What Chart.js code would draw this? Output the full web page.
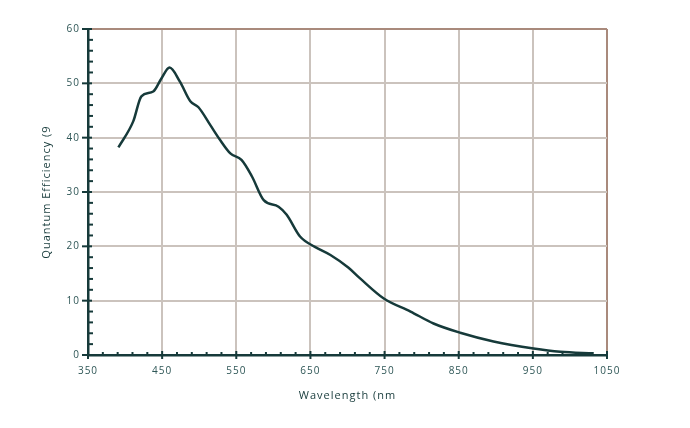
<!DOCTYPE html>
<html>
<head>
<meta charset="utf-8">
<script src="https://cdn.jsdelivr.net/npm/chart.js@4.4.1/dist/chart.umd.min.js"></script>
<style>
  html, body { margin: 0; padding: 0; background: #fff; }
  #wrap { width: 690px; height: 428px; }
</style>
</head>
<body>
<div id="wrap"><canvas id="qe"></canvas></div>
<script>
// wavelength (nm) and quantum efficiency (%)
const wavelength = [391, 411, 422, 438, 449, 460, 474, 488, 499, 515, 528, 542, 557, 571, 587, 607, 618, 636, 656, 677, 701, 717, 749, 785, 816, 852, 897, 951, 987, 1032];
const efficiency = [38.2, 43.0, 47.6, 48.5, 50.9, 52.9, 50.3, 46.7, 45.6, 42.3, 39.6, 37.1, 35.9, 32.9, 28.5, 27.3, 25.8, 21.8, 19.9, 18.4, 16.1, 14.1, 10.4, 8.0, 5.8, 4.1, 2.5, 1.2, 0.6, 0.3];
const xTicks = [350, 450, 550, 650, 750, 850, 950, 1050];
const yTicks = [0, 10, 20, 30, 40, 50, 60];

const ink = "#163a3a";
const labelColor = "#2e5656";
const gridColor = "#cbc3bd";
const edgeColor = "#a98a7c";

const points = wavelength.map((w, i) => ({ x: w, y: efficiency[i] }));

// wider letter spacing, the original labels are spread out
const spacing = {
  id: "spacing",
  beforeDraw(chart) { chart.ctx.letterSpacing = "1px"; }
};

// small tick marks drawn inward, like the original plot
const innerTicks = {
  id: "innerTicks",
  afterDraw(chart) {
    const ctx = chart.ctx;
    const xs = chart.scales.x, ys = chart.scales.y;
    const b = ys.getPixelForValue(0), l = xs.getPixelForValue(350);
    ctx.save();
    ctx.strokeStyle = ink;
    ctx.lineWidth = 2;
    xs.ticks.forEach(t => {
      const p = xs.getPixelForValue(t.value);
      ctx.beginPath();
      if (xTicks.includes(t.value)) { ctx.moveTo(p, b - 4); ctx.lineTo(p, b + 4); }
      else { ctx.moveTo(p, b - 3); ctx.lineTo(p, b); }
      ctx.stroke();
    });
    ys.ticks.forEach(t => {
      const p = ys.getPixelForValue(t.value);
      ctx.beginPath();
      if (yTicks.includes(t.value)) { ctx.moveTo(l - 6, p); ctx.lineTo(l + 4, p); }
      else { ctx.moveTo(l, p); ctx.lineTo(l + 5, p); }
      ctx.stroke();
    });
    ctx.restore();
  }
};

Chart.defaults.font.family = "'Open Sans', 'DejaVu Sans', sans-serif";
Chart.defaults.font.size = 10;
Chart.defaults.color = labelColor;

new Chart(document.getElementById("qe"), {
  type: "line",
  data: {
    datasets: [{
      data: points,
      borderColor: ink,
      borderWidth: 2.5,
      pointRadius: 0,
      cubicInterpolationMode: "monotone",
      fill: false
    }]
  },
  options: {
    responsive: true,
    maintainAspectRatio: false,
    animation: false,
    layout: { padding: { left: 0, top: 29, right: 83, bottom: 0 } },
    plugins: { legend: { display: false }, tooltip: { enabled: false } },
    scales: {
      x: {
        type: "linear",
        min: 350,
        max: 1050,
        afterFit: s => { s.height = 73; },
        afterBuildTicks: s => {
          s.ticks = [];
          for (let v = 350; v <= 1050; v += 20) s.ticks.push({ value: v });
          xTicks.forEach(v => { if (!s.ticks.some(t => t.value === v)) s.ticks.push({ value: v }); });
          s.ticks.sort((a, b) => a.value - b.value);
        },
        ticks: {
          autoSkip: false,
          maxRotation: 0,
          padding: 10,
          callback: v => xTicks.includes(v) ? String(v) : ""
        },
        grid: {
          drawTicks: false,
          lineWidth: 2,
          color: c => c.tick && c.tick.value === 1050 ? edgeColor : (c.tick && xTicks.includes(c.tick.value) ? gridColor : "transparent")
        },
        border: { display: true, color: ink, width: 2.5 },
        title: { display: true, text: "Wavelength (nm", color: ink, font: { size: 11 }, padding: { top: 0, bottom: 26 } }
      },
      y: {
        min: 0,
        max: 60,
        afterFit: s => { s.width = 88; },
        ticks: {
          stepSize: 2,
          autoSkip: false,
          padding: 8,
          callback: v => yTicks.includes(v) ? String(v) : ""
        },
        grid: {
          drawTicks: false,
          lineWidth: 2,
          color: c => c.tick && c.tick.value === 60 ? edgeColor : (c.tick && yTicks.includes(c.tick.value) ? gridColor : "transparent")
        },
        border: { display: true, color: ink, width: 2.5 },
        title: { display: true, text: "Quantum Efficiency (9", color: ink, font: { size: 11 }, padding: { top: 40, bottom: 0 } }
      }
    }
  },
  plugins: [spacing, innerTicks]
});
</script>
</body>
</html>
